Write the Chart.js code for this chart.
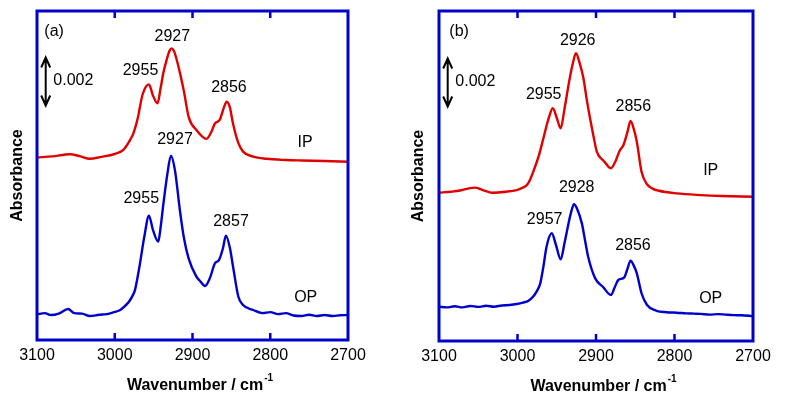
<!DOCTYPE html>
<html>
<head>
<meta charset="utf-8">
<script src="https://cdn.jsdelivr.net/npm/chart.js@4.4.1/dist/chart.umd.min.js"></script>
<style>
  body { margin: 0; background: #fff; }
  .panel { position: absolute; top: 0; height: 394px; }
  #wrapA { left: 0; width: 392px; }
  #wrapB { left: 392px; width: 393px; }
</style>
</head>
<body>
<div class="panel" id="wrapA"><canvas id="chartA"></canvas></div>
<div class="panel" id="wrapB"><canvas id="chartB"></canvas></div>
<script>
// absorbance values are in units of 1e-3 (offset traces, y axis has no scale)
const xTicks = [3100, 3000, 2900, 2800, 2700]
const innerTicks = [3000, 2900, 2800]

// panel (a)
const ipA_wn = [3100, 3080, 3058, 3045, 3032, 3019, 3000, 2989, 2980, 2976, 2970, 2968, 2964, 2956, 2951, 2945, 2941, 2937.6, 2933, 2929.5, 2927, 2924, 2920.5, 2916, 2911, 2905, 2895, 2882, 2876, 2871, 2865, 2860, 2856, 2852, 2848, 2841, 2835, 2822, 2805, 2780, 2760, 2730, 2700]
const ipA_abs = [7.61, 7.65, 7.74, 7.66, 7.55, 7.62, 7.75, 7.92, 8.35, 8.61, 9.3, 9.65, 10.25, 10.65, 10.2, 9.86, 10.5, 11.11, 11.7, 12.05, 12.15, 12.05, 11.7, 11.11, 10.35, 9.3, 8.75, 8.38, 8.65, 9.03, 9.17, 9.65, 9.93, 9.7, 9.03, 8.2, 7.85, 7.64, 7.55, 7.5, 7.48, 7.46, 7.43]
const opA_wn = [3100, 3090, 3082, 3072, 3060, 3052, 3042, 3032, 3020, 3010, 3002, 2993, 2988, 2982, 2977, 2974, 2968, 2962, 2956, 2951, 2944, 2941, 2937.6, 2932.5, 2927.7, 2922.6, 2916, 2911, 2905, 2895, 2890, 2884, 2878, 2871, 2866, 2861, 2857, 2852, 2847.5, 2841, 2835, 2822, 2810, 2800, 2790, 2780, 2770, 2760, 2750, 2740, 2730, 2720, 2710, 2700]
const opA_abs = [1.07, 1.12, 1.04, 1.1, 1.29, 1.12, 1.1, 1.0, 1.05, 1.08, 1.15, 1.25, 1.38, 1.58, 1.85, 2.08, 3.1, 4.3, 5.18, 4.6, 4.1, 4.7, 5.63, 6.88, 7.68, 7.08, 5.35, 4.25, 3.4, 2.64, 2.45, 2.25, 2.55, 3.2, 3.33, 3.8, 4.35, 3.85, 2.99, 1.8, 1.46, 1.25, 1.12, 1.16, 1.08, 1.12, 1.02, 1.0, 1.05, 1.0, 1.04, 1.0, 1.03, 1.04]
const labelsA = [
  { text: '2955', wn: 2966.9, abs: 11.22 },
  { text: '2927', wn: 2926, abs: 12.64 },
  { text: '2856', wn: 2853.1, abs: 10.51 },
  { text: 'IP', wn: 2755.3, abs: 8.22 },
  { text: '2927', wn: 2922.5, abs: 8.33 },
  { text: '2955', wn: 2965.9, abs: 5.9 },
  { text: '2857', wn: 2850.5, abs: 4.93 },
  { text: 'OP', wn: 2754.4, abs: 1.78 }
]

// panel (b)
const ipB_wn = [3100, 3085, 3073, 3062, 3054, 3045, 3033, 3015, 3001, 2994, 2988, 2984, 2980, 2973, 2967, 2961, 2955, 2950, 2945, 2940, 2935, 2930, 2925.5, 2921, 2916, 2912, 2907.6, 2903, 2899, 2890, 2881, 2875, 2870, 2865, 2860, 2856, 2852, 2848, 2842, 2835, 2828, 2820, 2797, 2767, 2740, 2700]
const ipB_abs = [6.18, 6.22, 6.27, 6.36, 6.39, 6.3, 6.18, 6.22, 6.29, 6.38, 6.5, 6.72, 7.05, 7.7, 8.45, 9.2, 9.7, 9.3, 8.86, 9.7, 10.67, 11.5, 11.99, 11.6, 10.95, 10.1, 9.28, 8.5, 7.89, 7.5, 7.2, 7.5, 7.92, 8.17, 8.7, 9.17, 8.85, 8.3, 7.05, 6.53, 6.35, 6.26, 6.15, 6.08, 6.04, 6.01]
const opB_wn = [3100, 3090, 3080, 3070, 3060, 3050, 3040, 3030, 3020, 3010, 3001, 2993, 2986, 2980, 2975, 2971, 2967, 2963, 2956.4, 2951, 2945, 2940, 2935, 2931, 2928, 2924, 2918, 2914, 2910, 2901, 2891, 2881, 2876, 2871.6, 2864, 2860, 2856, 2852, 2848, 2842, 2835, 2823, 2810, 2797, 2785, 2775, 2767, 2755, 2745, 2735, 2725, 2715, 2700]
const opB_abs = [1.43, 1.4, 1.45, 1.4, 1.46, 1.42, 1.47, 1.43, 1.48, 1.5, 1.54, 1.6, 1.68, 1.85, 2.1, 2.4, 3.1, 3.93, 4.49, 4.0, 3.4, 4.1, 4.9, 5.45, 5.7, 5.5, 4.9, 4.2, 3.51, 2.61, 2.25, 1.92, 2.25, 2.54, 2.65, 3.0, 3.35, 3.15, 2.82, 1.99, 1.5, 1.26, 1.2, 1.18, 1.15, 1.14, 1.13, 1.1, 1.12, 1.1, 1.08, 1.07, 1.04]
const labelsB = [
  { text: '2926', wn: 2923.3, abs: 12.51 },
  { text: '2955', wn: 2966.6, abs: 10.25 },
  { text: '2856', wn: 2852.5, abs: 9.76 },
  { text: 'IP', wn: 2753.9, abs: 7.1 },
  { text: '2928', wn: 2924.6, abs: 6.4 },
  { text: '2957', wn: 2965.4, abs: 5.04 },
  { text: '2856', wn: 2852.9, abs: 3.97 },
  { text: 'OP', wn: 2753.9, abs: 1.78 }
]

const barBottom = 9.77
const barSize = 2   // 0.002
const barLabel = '0.002'

const FONT = '"Liberation Sans", Arial, sans-serif'
const frameColor = '#0000cc'
const redColor = '#e00000'
const blueColor = '#0000cc'

const toPoints = (wn, abs) => wn.map((w, i) => ({ x: w, y: abs[i] }))

const panelDecor = {
  id: 'panelDecor',
  afterDatasetsDraw(chart, args, opts) {
    const { ctx, chartArea: a, scales: { x, y } } = chart
    ctx.save()
    // frame + inward ticks
    ctx.strokeStyle = frameColor
    ctx.lineWidth = 3
    ctx.strokeRect(a.left, a.top, a.right - a.left, a.bottom - a.top)
    ctx.lineWidth = 2.5
    innerTicks.forEach(v => {
      const px = x.getPixelForValue(v)
      ctx.beginPath()
      ctx.moveTo(px, a.top)
      ctx.lineTo(px, a.top + 7)
      ctx.moveTo(px, a.bottom)
      ctx.lineTo(px, a.bottom - 7)
      ctx.stroke()
    })

    // peak labels
    ctx.fillStyle = '#000'
    ctx.font = '16px ' + FONT
    ctx.textAlign = 'center'
    ctx.textBaseline = 'middle'
    opts.labels.forEach(l => {
      ctx.fillText(l.text, x.getPixelForValue(l.wn), y.getPixelForValue(l.abs))
    })

    // panel tag
    ctx.textAlign = 'left'
    ctx.fillText(opts.tag, a.left + opts.tagDx, a.top + 21)

    // scale bar
    const bx = a.left + 8.7
    const y0 = y.getPixelForValue(barBottom)
    const y1 = y.getPixelForValue(barBottom + barSize)
    ctx.strokeStyle = '#000'
    ctx.lineWidth = 2
    ctx.beginPath()
    ctx.moveTo(bx, y0)
    ctx.lineTo(bx, y1)
    ctx.moveTo(bx - 4.5, y1 + 10)
    ctx.lineTo(bx, y1)
    ctx.lineTo(bx + 4.5, y1 + 10)
    ctx.moveTo(bx - 4.5, y0 - 10)
    ctx.lineTo(bx, y0)
    ctx.lineTo(bx + 4.5, y0 - 10)
    ctx.stroke()
    ctx.fillText(barLabel, a.left + 16.3, (y0 + y1) / 2 - 1)

    // x title with superscript
    const main = 'Wavenumber / cm'
    const sup = '-1'
    ctx.font = 'bold 16px ' + FONT
    const w1 = ctx.measureText(main).width
    ctx.font = 'bold 10px ' + FONT
    const w2 = ctx.measureText(sup).width
    const start = (a.left + a.right) / 2 + 7.5 - (w1 + w2 + 1) / 2
    ctx.textBaseline = 'alphabetic'
    ctx.font = 'bold 16px ' + FONT
    ctx.fillText(main, start, a.bottom + 50)
    ctx.font = 'bold 10px ' + FONT
    ctx.fillText(sup, start + w1 + 1, a.bottom + 40.5)
    ctx.restore()
  }
}

function makePanel(id, ip, op, labels, tag, g) {
  const ctx = document.getElementById(id).getContext('2d')
  return new Chart(ctx, {
    type: 'line',
    data: {
      datasets: [
        { label: 'IP', data: ip, borderColor: redColor, borderWidth: 2.4, pointRadius: 0, fill: false, cubicInterpolationMode: 'monotone' },
        { label: 'OP', data: op, borderColor: blueColor, borderWidth: 2.4, pointRadius: 0, fill: false, cubicInterpolationMode: 'monotone' }
      ]
    },
    options: {
      animation: false,
      responsive: true,
      maintainAspectRatio: false,
      layout: { padding: { top: 11, right: g.padRight, left: 0, bottom: 0 } },
      plugins: {
        legend: { display: false },
        tooltip: { enabled: false },
        panelDecor: { labels: labels, tag: tag, tagDx: g.tagDx }
      },
      scales: {
        x: {
          type: 'linear',
          reverse: true,
          min: 2700,
          max: 3100,
          afterBuildTicks: axis => { axis.ticks = xTicks.map(v => ({ value: v })) },
          afterFit: axis => { axis.height = g.xHeight },
          grid: { display: false, drawTicks: false },
          border: { display: false },
          ticks: {
            padding: 6,
            color: '#000',
            autoSkip: false,
            maxRotation: 0,
            font: { family: FONT, size: 16 },
            callback: v => String(v)
          }
        },
        y: {
          min: 0,
          max: g.yMax,
          afterFit: axis => { axis.width = g.yWidth },
          grid: { display: false, drawTicks: false },
          border: { display: false },
          ticks: { display: false },
          title: {
            display: true,
            text: 'Absorbance',
            color: '#000',
            font: { family: FONT, size: 16, weight: 'bold' },
            padding: { top: g.titlePad, bottom: 0 }
          }
        }
      }
    },
    plugins: [panelDecor]
  })
}

makePanel('chartA', toPoints(ipA_wn, ipA_abs), toPoints(opA_wn, opA_abs), labelsA, '(a)',
  { padRight: 44, xHeight: 54, yWidth: 37, yMax: 329 / 24, titlePad: 8, tagDx: 7.3 })
makePanel('chartB', toPoints(ipB_wn, ipB_abs), toPoints(opB_wn, opB_abs), labelsB, '(b)',
  { padRight: 32, xHeight: 53, yWidth: 47, yMax: 330 / 24, titlePad: 17, tagDx: 10.3 })
</script>
</body>
</html>
